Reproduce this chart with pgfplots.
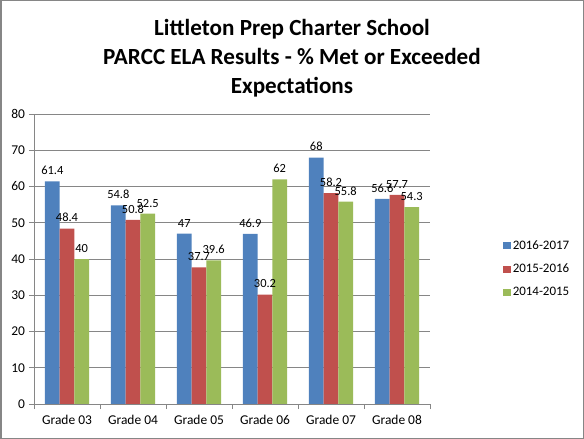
\documentclass[border=0pt]{standalone}
\usepackage{pgfplots}
\pgfplotsset{compat=1.18}
\usepackage{fontspec}
\setmainfont{Carlito}
\definecolor{sblue}{HTML}{4F81BD}
\definecolor{sred}{HTML}{C0504D}
\definecolor{sgreen}{HTML}{9BBB59}
\definecolor{gridg}{HTML}{868686}
\begin{document}
\begin{tikzpicture}
\useasboundingbox (0,0) rectangle (584bp,439bp);
\begin{axis}[
  at={(34bp,35bp)}, anchor=south west,
  scale only axis, width=396bp, height=290bp,
  ybar=0pt, bar width=14.7bp,
  xmin=-0.5, xmax=5.5, ymin=0, ymax=80,
  ytick={0,10,...,80},
  xtick={-0.5,0.5,...,5.5},
  x tick label as interval,
  xticklabels={Grade 03,Grade 04,Grade 05,Grade 06,Grade 07,Grade 08},
  axis x line*=bottom, axis y line*=left,
  axis line style={draw=gridg, line width=0.9bp},
  tick align=outside, major tick length=5bp,
  tick style={draw=gridg, line width=0.9bp},
  ymajorgrids, grid style={draw=gridg, line width=0.9bp},
  /pgf/number format/assume math mode=true,
  tick label style={font=\fontsize{13.5}{15}\selectfont},
  yticklabel style={xshift=-0.5bp},
  xticklabel style={yshift=-3bp},
  nodes near coords,
  nodes near coords style={font=\fontsize{12.5}{14}\selectfont, text=black, yshift=3bp},
  title={Littleton Prep Charter School\\PARCC ELA Results - \% Met or Exceeded\\Expectations},
  title style={at={(axis description cs:0.6515,1.172)}, anchor=center, align=center,
    font=\fontsize{23.2}{29}\selectfont\bfseries},
  legend cell align=left,
  legend style={at={(axis description cs:1.177,0.4655)}, anchor=west, draw=none,
    font=\fontsize{13}{15}\selectfont, row sep=9bp, fill=none},
  legend image code/.code={\fill[#1,draw=none] (0bp,-3.5bp) rectangle (7.5bp,3.5bp);},
]
\addplot[fill=sblue, draw=none] coordinates {(0,61.4) (1,54.8) (2,47) (3,46.9) (4,68) (5,56.6)};
\addplot[fill=sred, draw=none] coordinates {(0,48.4) (1,50.8) (2,37.7) (3,30.2) (4,58.2) (5,57.7)};
\addplot[fill=sgreen, draw=none] coordinates {(0,40) (1,52.5) (2,39.6) (3,62) (4,55.8) (5,54.3)};
\legend{2016-2017,2015-2016,2014-2015}
\end{axis}
\draw[gridg, line width=1.5bp] (0.75bp,0.75bp) rectangle (583.25bp,438.25bp);
\end{tikzpicture}
\end{document}
